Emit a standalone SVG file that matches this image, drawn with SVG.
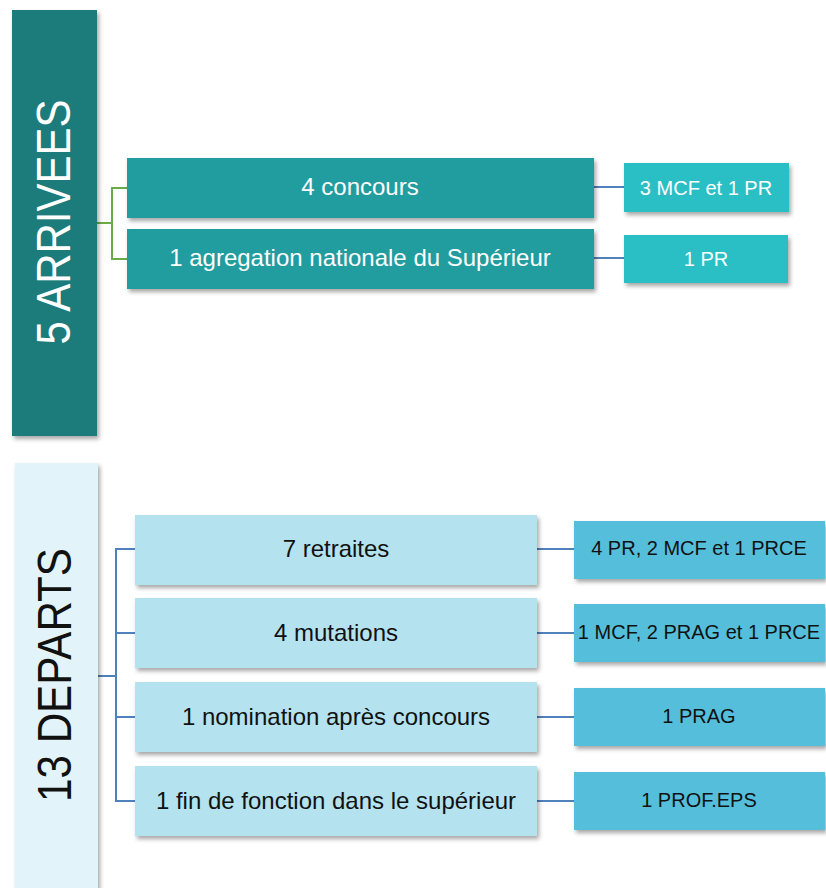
<svg xmlns="http://www.w3.org/2000/svg" width="826" height="888" viewBox="0 0 826 888">
<defs>
<filter id="sh" x="-20%" y="-20%" width="140%" height="150%">
<feDropShadow dx="2" dy="3" stdDeviation="2" flood-color="#000" flood-opacity="0.35"/>
</filter>
</defs>
<style>
text{font-family:"Liberation Sans",Arial,sans-serif;text-anchor:middle}
.big{font-size:48px}
.main{font-size:24px}
.sub{font-size:20px}
.w{fill:#ffffff}
.k{fill:#111111}
.blue{stroke:#4f81bd;stroke-width:2;fill:none}
.green{stroke:#6aac46;stroke-width:2;fill:none}
</style>
<rect width="826" height="888" fill="#ffffff"/>
<g id="connectors">
<polyline class="green" points="97,223 112,223"/>
<polyline class="green" points="127,188 112,188 112,259 127,259"/>
<line class="blue" x1="594" y1="187" x2="624" y2="187"/>
<line class="blue" x1="594" y1="258" x2="624" y2="258"/>
<polyline class="blue" points="98,676 116,676"/>
<polyline class="blue" points="135,549 116,549 116,801 135,801"/>
<line class="blue" x1="116" y1="633" x2="135" y2="633"/>
<line class="blue" x1="116" y1="717" x2="135" y2="717"/>
<line class="blue" x1="537" y1="549" x2="574" y2="549"/>
<line class="blue" x1="537" y1="633" x2="574" y2="633"/>
<line class="blue" x1="537" y1="717" x2="574" y2="717"/>
<line class="blue" x1="537" y1="801" x2="574" y2="801"/>
</g>
<g id="arrivees">
<rect x="12" y="10" width="85" height="426" fill="#1d7b7b" filter="url(#sh)"/>
<text class="big w" transform="translate(70,222) rotate(-90)" textLength="245" lengthAdjust="spacingAndGlyphs">5 ARRIVEES</text>
</g>
<g id="concours">
<rect x="127" y="158" width="467" height="60" fill="#219d9f" filter="url(#sh)"/>
<text class="main w" x="360" y="195">4 concours</text>
</g>
<g id="agregation">
<rect x="127" y="229" width="467" height="60" fill="#219d9f" filter="url(#sh)"/>
<text class="main w" x="360" y="266">1 agregation nationale du Supérieur</text>
</g>
<g id="mcf-pr">
<rect x="624" y="163" width="165" height="49" fill="#2abfc5" filter="url(#sh)"/>
<text class="sub w" x="706" y="195">3 MCF et 1 PR</text>
</g>
<g id="pr">
<rect x="624" y="235" width="164" height="48" fill="#2abfc5" filter="url(#sh)"/>
<text class="sub w" x="706" y="266">1 PR</text>
</g>
<g id="departs">
<rect x="15" y="463" width="83" height="440" fill="#e2f4f9" filter="url(#sh)"/>
<text class="big k" transform="translate(71,675) rotate(-90)" textLength="254" lengthAdjust="spacingAndGlyphs">13 DEPARTS</text>
</g>
<g id="retraites">
<rect x="135" y="515" width="402" height="70" fill="#b4e3ef" filter="url(#sh)"/>
<text class="main k" x="336" y="557">7 retraites</text>
</g>
<g id="mutations">
<rect x="135" y="598" width="402" height="70" fill="#b4e3ef" filter="url(#sh)"/>
<text class="main k" x="336" y="641">4 mutations</text>
</g>
<g id="nomination">
<rect x="135" y="682" width="402" height="70" fill="#b4e3ef" filter="url(#sh)"/>
<text class="main k" x="336" y="725">1 nomination après concours</text>
</g>
<g id="fin-fonction">
<rect x="135" y="766" width="402" height="70" fill="#b4e3ef" filter="url(#sh)"/>
<text class="main k" x="336" y="809">1 fin de fonction dans le supérieur</text>
</g>
<g id="d1">
<rect x="574" y="521" width="251" height="58" fill="#54bfdb" filter="url(#sh)"/>
<text class="sub k" x="699" y="555">4 PR, 2 MCF et 1 PRCE</text>
</g>
<g id="d2">
<rect x="574" y="604" width="251" height="58" fill="#54bfdb" filter="url(#sh)"/>
<text class="sub k" x="699" y="639">1 MCF, 2 PRAG et 1 PRCE</text>
</g>
<g id="d3">
<rect x="574" y="688" width="251" height="58" fill="#54bfdb" filter="url(#sh)"/>
<text class="sub k" x="699" y="723">1 PRAG</text>
</g>
<g id="d4">
<rect x="574" y="772" width="251" height="58" fill="#54bfdb" filter="url(#sh)"/>
<text class="sub k" x="699" y="807">1 PROF.EPS</text>
</g>
</svg>
